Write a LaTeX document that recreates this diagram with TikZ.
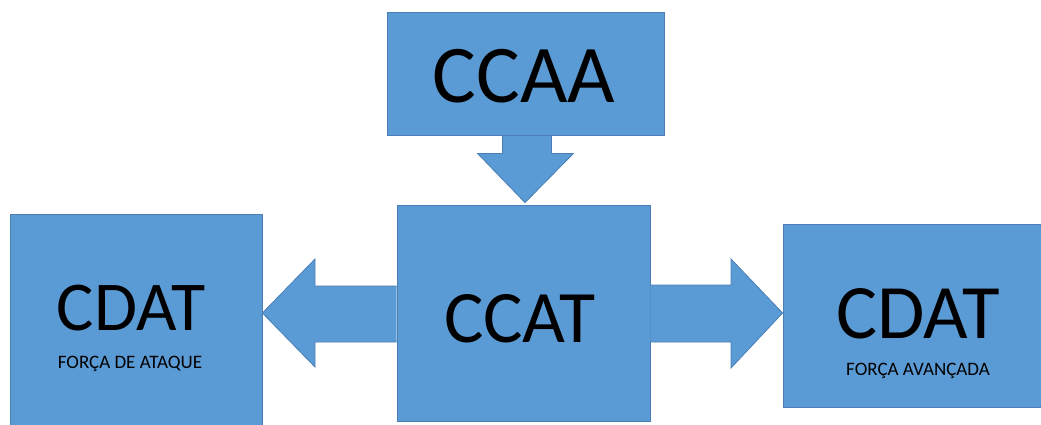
\documentclass[tikz,border=0pt]{standalone}
\usepackage{fontspec}
\setmainfont{Carlito}
\usetikzlibrary{calc}
\definecolor{boxfill}{HTML}{5B9BD5}
\definecolor{boxline}{HTML}{4A7EB5}
\tikzset{
  blockbox/.style={draw=boxline, fill=boxfill, line width=0.8pt, rectangle, inner sep=0pt},
  blockarrow/.style={draw=boxline, fill=boxfill, line width=0.8pt, line join=miter},
  bigtext/.style={anchor=base, inner sep=0pt, text=black},
}
\newcommand{\fsz}[1]{\fontsize{#1}{#1}\selectfont}
\begin{document}
\begin{tikzpicture}[x=1pt,y=-1pt]
\useasboundingbox (0,0) rectangle (1041,424);
% boxes
\node[blockbox, minimum width=277pt, minimum height=123pt] (ccaa) at (525.5,73.5) {};
\node[blockbox, minimum width=253pt, minimum height=216pt] (ccat) at (523.5,313) {};
\node[blockbox, minimum width=252pt, minimum height=230pt] (cdatl) at (136,329) {};
\node[blockbox, minimum width=262pt, minimum height=183pt] (cdatr) at (914,315.5) {};
% block arrows
\draw[blockarrow] ($(ccaa.south)+(-23,0)$) -- ($(ccaa.south)+(26,0)$) -- ($(ccaa.south)+(26,18)$)
  -- ($(ccaa.south)+(48,18)$) -- ($(ccat.north)+(1.5,-2)$) -- ($(ccaa.south)+(-48,18)$)
  -- ($(ccaa.south)+(-23,18)$) -- cycle;
\coordinate (ltip) at (cdatl.east |- 0,313);
\draw[blockarrow] (ccat.west |- 0,286) -- (315,286) -- (315,259) -- (ltip) -- (315,367) -- (315,342) -- (ccat.west |- 0,342);
\coordinate (rtip) at (cdatr.west |- 0,313);
\draw[blockarrow] (ccat.east |- 0,285) -- (731,285) -- (731,259) -- (rtip) -- (731,368) -- (731,342) -- (ccat.east |- 0,342);
% texts
\node[bigtext] (tccaa) at (524,102) {\fsz{82}CCAA};
\node[bigtext] (tccat) at (520,342) {\fsz{74}CCAT};
\node[bigtext] (tcdatl) at (131,330) {\fsz{70}CDAT};
\node[bigtext] (tsubl) at (130,368) {\fsz{19}FORÇA DE ATAQUE};
\node[bigtext] (tcdatr) at (918,338) {\fsz{77}CDAT};
\node[bigtext] (tsubr) at (918,375) {\fsz{19}FORÇA AVANÇADA};
\end{tikzpicture}
\end{document}
